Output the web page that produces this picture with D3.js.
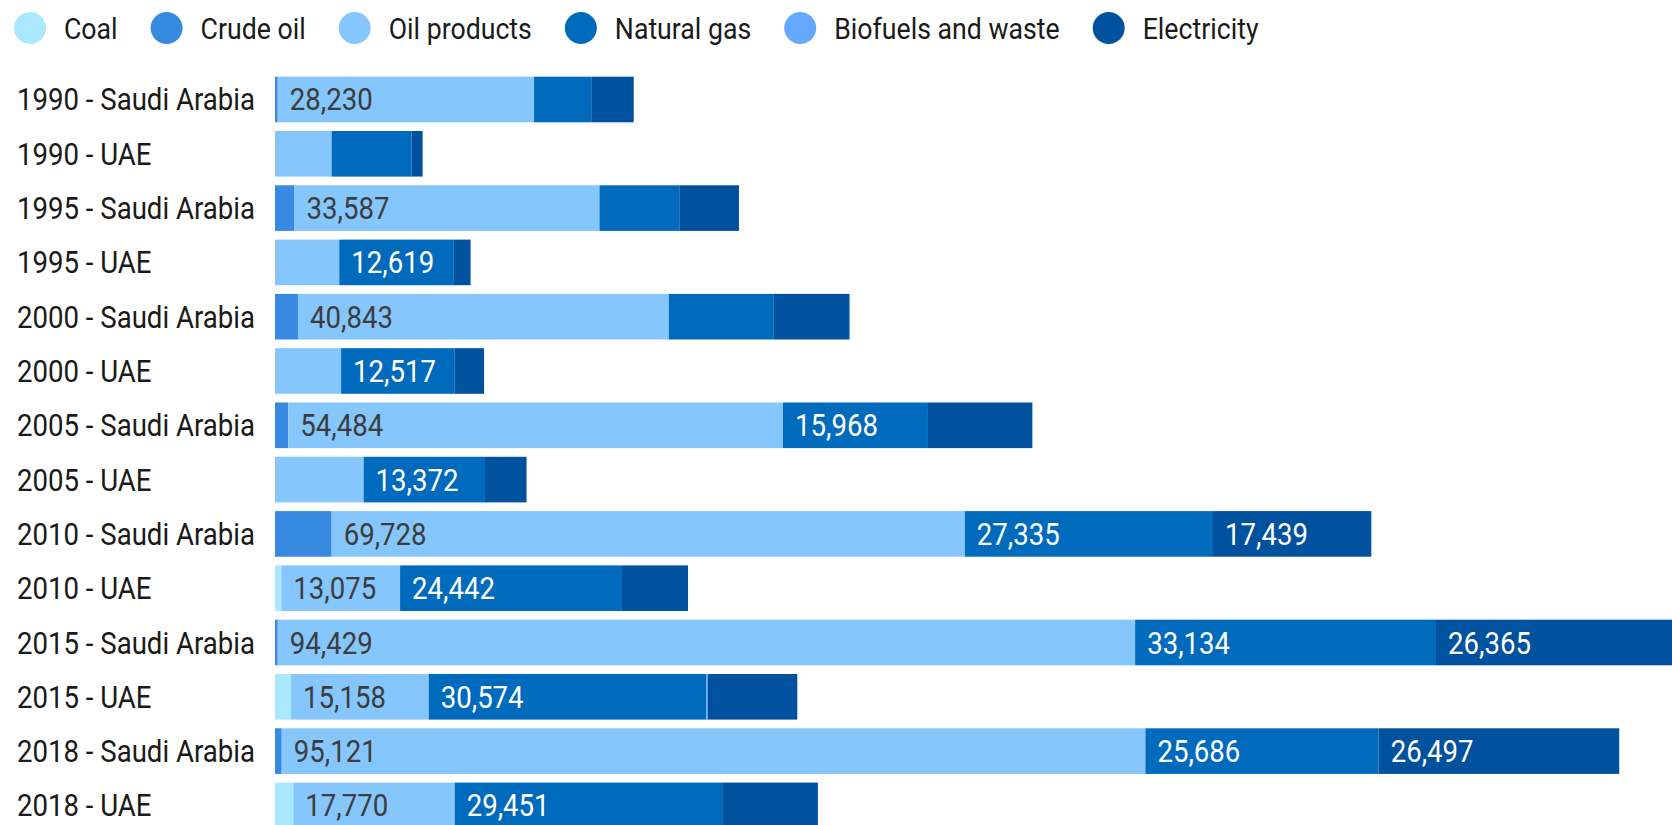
<!DOCTYPE html>
<html>
<head>
<meta charset="utf-8">
<script src="https://cdn.jsdelivr.net/npm/d3@7"></script>
<style>
  html, body { margin: 0; padding: 0; background: #ffffff; }
  svg { display: block; }
  text { font-family: Roboto, "Noto Sans", sans-serif; }
</style>
</head>
<body>
<svg id="chart" width="1672" height="825"></svg>
<script>
// Final energy consumption by source, Saudi Arabia vs UAE
const categories = [
  "1990 - Saudi Arabia", "1990 - UAE",
  "1995 - Saudi Arabia", "1995 - UAE",
  "2000 - Saudi Arabia", "2000 - UAE",
  "2005 - Saudi Arabia", "2005 - UAE",
  "2010 - Saudi Arabia", "2010 - UAE",
  "2015 - Saudi Arabia", "2015 - UAE",
  "2018 - Saudi Arabia", "2018 - UAE"
];
const seriesNames = ["Coal", "Crude oil", "Oil products", "Natural gas", "Biofuels and waste", "Electricity"];
const seriesColors = ["#aae8fe", "#3889e0", "#85c7fd", "#006bbd", "#64a8ff", "#00519e"];

const coal        = [0, 0, 0, 0, 0, 0, 0, 0, 0, 700, 0, 1770, 0, 2020];
const crudeOil    = [300, 0, 2150, 0, 2530, 0, 1460, 0, 6240, 0, 300, 0, 740, 0];
const oilProducts = [28230, 6240, 33587, 7080, 40843, 7280, 54484, 9760, 69728, 13075, 94429, 15158, 95121, 17770];
const naturalGas  = [6300, 8810, 8790, 12619, 11500, 12517, 15968, 13372, 27335, 24442, 33134, 30574, 25686, 29451];
const biofuels    = [0, 0, 0, 0, 0, 0, 0, 0, 0, 0, 0, 150, 0, 0];
const electricity = [4680, 1210, 6570, 1840, 8400, 3230, 11500, 4570, 17439, 7270, 26365, 9870, 26497, 10550];

const seriesValues = [coal, crudeOil, oilProducts, naturalGas, biofuels, electricity];
const labelThreshold = 12000;
const darkSeries = new Set(["Crude oil", "Natural gas", "Electricity"]);

const rows = categories.map((c, i) => {
  const r = { category: c };
  seriesNames.forEach((s, j) => { r[s] = seriesValues[j][i]; });
  return r;
});

const stacked = d3.stack().keys(seriesNames)(rows);

const svg = d3.select("#chart");
const fontSize = 31;
const legendFontSize = 30;
const squeeze = 0.89;   // narrow the face to a condensed width

const x = d3.scaleLinear().domain([0, 150000]).range([275, 1637]);
const y = d3.scaleBand().domain(categories).range([68, 836.9]).padding(0.16);
const color = d3.scaleOrdinal().domain(seriesNames).range(seriesColors);

function placeText(sel, tx, ty) {
  sel.attr("transform", (d, i, n) => `translate(${tx(d, i, n)},${ty(d, i, n)}) scale(${squeeze},1)`);
}

// Legend
const legend = svg.append("g").attr("class", "legend");
let lx = 30;
seriesNames.forEach(name => {
  const g = legend.append("g");
  g.append("circle").attr("cx", lx).attr("cy", 28).attr("r", 16).attr("fill", color(name));
  const t = g.append("text")
    .attr("transform", `translate(${lx + 34},39) scale(${squeeze},1)`)
    .attr("font-size", legendFontSize).attr("fill", "#1a1a1a")
    .text(name);
  lx = lx + 34 + t.node().getComputedTextLength() * squeeze + 49;
});

// Row labels
svg.append("g").selectAll("text")
  .data(categories)
  .join("text")
  .call(placeText, () => 17, d => y(d) + y.bandwidth() / 2 + 11)
  .attr("font-size", fontSize)
  .attr("fill", "#1a1a1a")
  .text(d => d);

// Stacked bars
const layers = svg.append("g").selectAll("g")
  .data(stacked)
  .join("g")
  .attr("fill", d => color(d.key));

layers.selectAll("rect")
  .data(d => d.map(p => ({ key: d.key, p })))
  .join("rect")
  .attr("x", d => x(d.p[0]))
  .attr("y", d => y(d.p.data.category))
  .attr("width", d => Math.max(0, x(d.p[1]) - x(d.p[0])))
  .attr("height", y.bandwidth());

// Value labels for the larger segments
const fmt = d3.format(",");
const labels = [];
stacked.forEach(layer => {
  layer.forEach(p => {
    const v = p[1] - p[0];
    if (v >= labelThreshold) labels.push({ key: layer.key, p, v });
  });
});
svg.append("g").selectAll("text")
  .data(labels)
  .join("text")
  .call(placeText, d => x(d.p[0]) + 12, d => y(d.p.data.category) + y.bandwidth() / 2 + 11)
  .attr("font-size", fontSize)
  .attr("fill", d => darkSeries.has(d.key) ? "#ffffff" : "#3d3d3d")
  .text(d => fmt(d.v));
</script>
</body>
</html>
